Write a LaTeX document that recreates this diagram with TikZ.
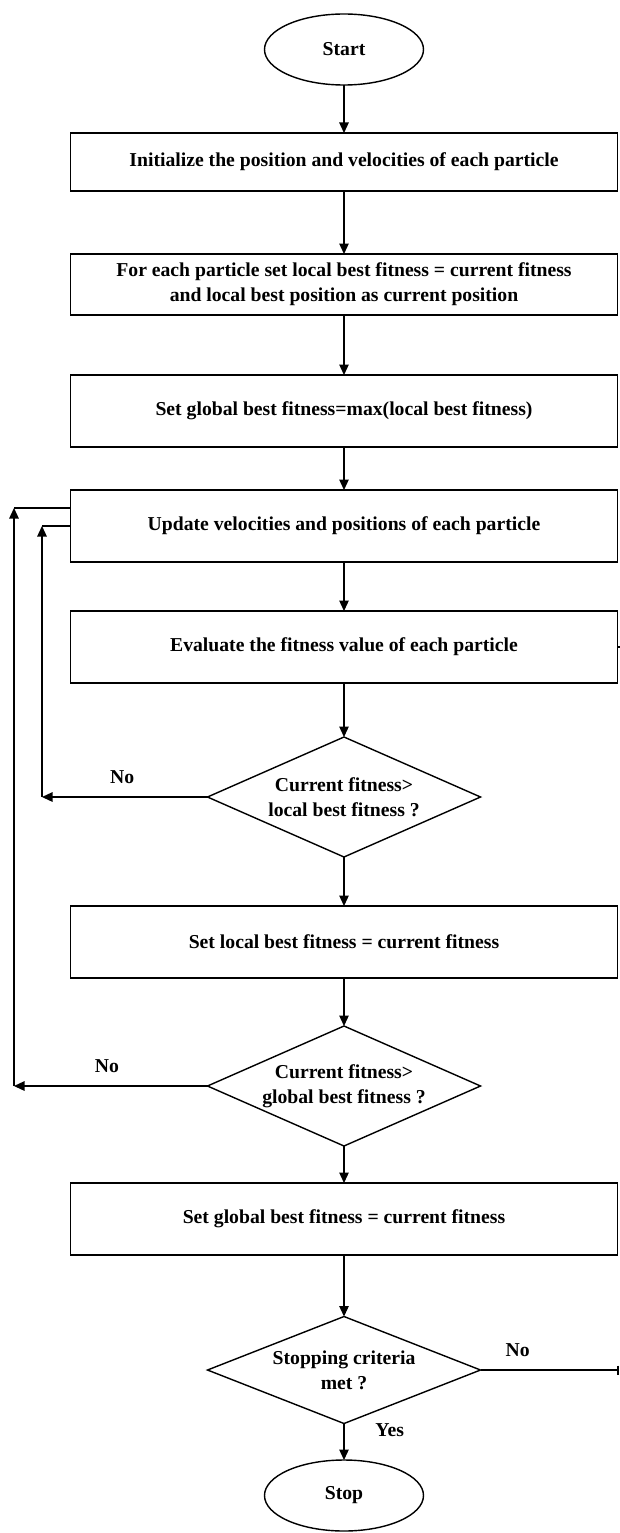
\documentclass[tikz,border=0pt]{standalone}
\usepackage{fontspec}
\setmainfont{Liberation Serif}
\usepackage{tikz}
\usetikzlibrary{shapes,arrows.meta,positioning,calc}

\begin{document}
\begin{tikzpicture}[
    every node/.style={font=\bfseries\fontsize{11.2}{14.2}\selectfont},
    terminal/.style={ellipse, draw, line width=0.8pt, outer sep=0pt, minimum width=3.18cm, minimum height=1.42cm},
    block/.style={rectangle, draw, line width=0.8pt, outer sep=0pt, minimum width=10.94cm, minimum height=1.44cm, align=center},
    decision/.style={diamond, draw, line width=0.8pt, outer sep=0pt, aspect=2.275, inner sep=0pt, minimum width=5.46cm, minimum height=2.4cm, align=center},
    arrow/.style={->, >={Triangle[length=2.1mm, width=1.9mm]}, line width=0.7pt},
    branch/.style={above=4pt}
]
    \useasboundingbox (0,0) rectangle (12.38,-30.66);

    % Start and set-up
    \node[terminal] (start) at (6.88,-0.99) {Start};
    \node[block, below=0.96cm of start, minimum height=1.16cm] (init) {Initialize the position and velocities of each particle};
    \node[block, below=1.26cm of init, minimum height=1.22cm] (localset) {For each particle set local best fitness = current fitness\\and local best position as current position};
    \node[block, below=1.2cm of localset] (globalset) {Set global best fitness=max(local best fitness)};

    % Main loop
    \node[block, below=0.86cm of globalset] (update) {Update velocities and positions of each particle};
    \node[block, below=0.98cm of update] (evaluate) {Evaluate the fitness value of each particle};
    \node[decision, below=1.08cm of evaluate] (checklocal) {Current fitness>\\local best fitness ?};
    \node[block, below=0.98cm of checklocal] (newlocal) {Set local best fitness = current fitness};
    \node[decision, below=0.96cm of newlocal] (checkglobal) {Current fitness>\\global best fitness ?};
    \node[block, below=0.74cm of checkglobal] (newglobal) {Set global best fitness = current fitness};
    \node[decision, below=1.23cm of newglobal, minimum height=2.14cm] (stopcheck) {Stopping criteria\\met ?};
    \node[terminal, below=0.73cm of stopcheck] (stop) {Stop};

    % Arrows - main flow
    \draw[arrow] (start) -- (init);
    \draw[arrow] (init) -- (localset);
    \draw[arrow] (localset) -- (globalset);
    \draw[arrow] (globalset) -- (update);
    \draw[arrow] (update) -- (evaluate);
    \draw[arrow] (evaluate) -- (checklocal);
    \draw[arrow] (checklocal) -- (newlocal);
    \draw[arrow] (newlocal) -- (checkglobal);
    \draw[arrow] (checkglobal) -- (newglobal);
    \draw[arrow] (newglobal) -- (stopcheck);
    \draw[arrow] (stopcheck) -- node[right=0.5cm, pos=0.18] {Yes} (stop);

    % Inner loop (local best)
    \coordinate (innerturn) at (checklocal.west -| 0.84,0);
    \coordinate (innertop) at (update.west -| 0.84,0);
    \draw[arrow] (checklocal.west) -- node[branch, pos=0.515] {No} (innerturn);
    \draw[arrow] (innerturn) -- (innertop);
    \draw[line width=0.7pt] (innertop) -- (update.west);

    % Outer loop (global best)
    \coordinate (updatein) at ([yshift=0.36cm]update.west);
    \coordinate (outerturn) at (checkglobal.west -| 0.28,0);
    \coordinate (outertop) at (updatein -| 0.28,0);
    \draw[arrow] (checkglobal.west) -- node[branch, pos=0.52] {No} (outerturn);
    \draw[arrow] (outerturn) -- (outertop);
    \draw[line width=0.7pt] (outertop) -- (updatein);

    % Stopping criteria not met
    \coordinate (rightend) at (stopcheck.east -| 12.36,0);
    \coordinate (evalstub) at ([xshift=0.05cm]evaluate.east);
    \draw[line width=0.7pt] (stopcheck.east) -- node[branch, pos=0.27] {No} (rightend);
    \draw[line width=0.7pt] ([yshift=0.09cm]rightend) -- ([yshift=-0.09cm]rightend);
    \draw[line width=0.7pt] (evaluate.east) -- (evalstub);

\end{tikzpicture}
\end{document}
